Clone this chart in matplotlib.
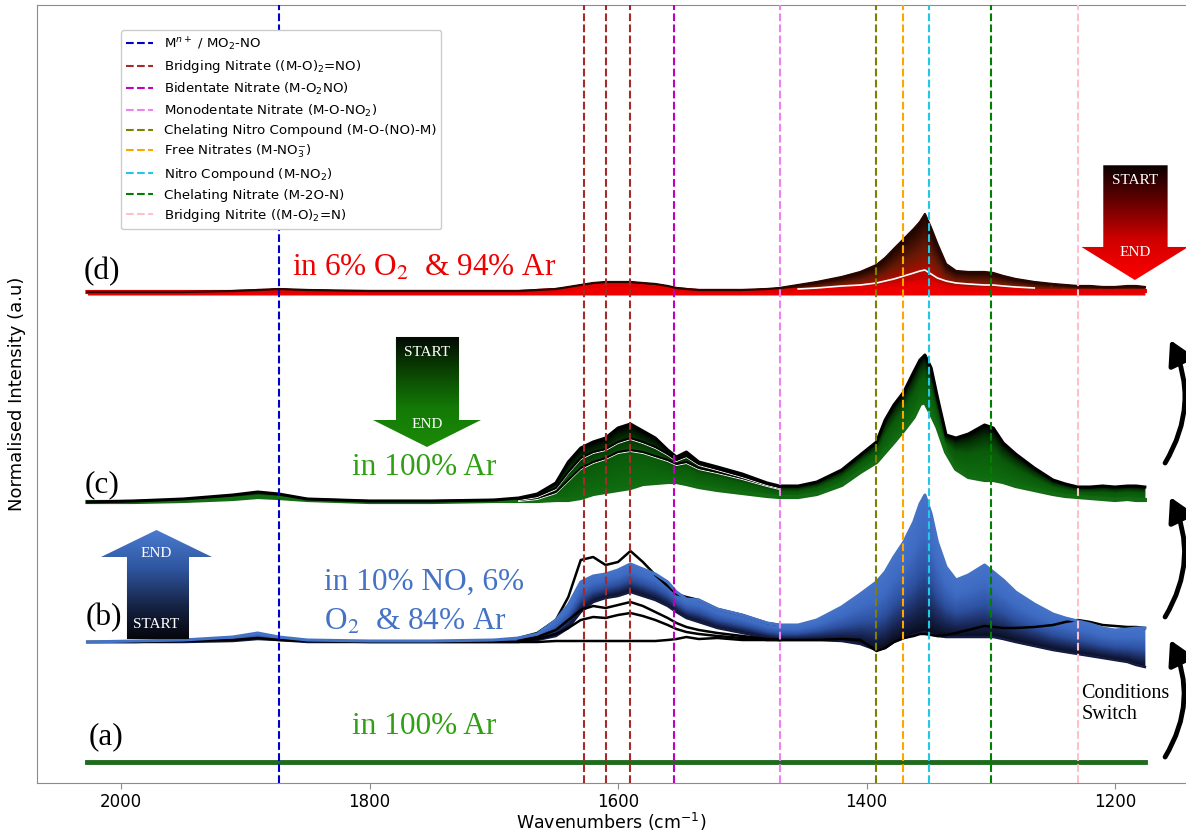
import numpy as np
import matplotlib.pyplot as plt
from matplotlib.colors import LinearSegmentedColormap
from matplotlib.patches import Polygon, FancyArrowPatch

###############################################################################
# Data
###############################################################################
# wavenumber grid shared by all spectra (cm-1)
W = [2027, 1990, 1950, 1910, 1890, 1873, 1850, 1800, 1750, 1700,
     1680, 1665, 1650, 1640, 1630, 1620, 1610, 1600, 1590, 1580,
     1570, 1560, 1553, 1545, 1535, 1520, 1500, 1480, 1470, 1455,
     1440, 1420, 1405, 1392, 1385, 1378, 1370, 1362, 1357, 1353,
     1348, 1343, 1336, 1328, 1318, 1305, 1298, 1290, 1280, 1265,
     1250, 1240, 1230, 1220, 1210, 1200, 1190, 1183, 1176]

# vertical offsets of the stacked spectra (a.u.)
offset_a, offset_b, offset_c, offset_d = 21, 141, 281, 491

# (a) in 100% Ar : flat
a_w = [2027, 1176]
a_int = [0, 0]

# (b) in 10% NO, 6% O2 & 84% Ar
b_end = [0, 1, 2, 5, 9, 5, 2, 1, 1, 2,
         4, 8, 22, 37, 60, 66, 68, 72, 78, 73,
         68, 60, 50, 43, 42, 33, 27, 19, 17, 17,
         22, 35, 48, 60, 70, 85, 100, 120, 138, 147,
         128, 100, 75, 62, 67, 77, 70, 62, 50, 38,
         28, 24, 21, 18, 14, 12, 13, 14, 14]
b_low = [0, 0, 0, 1, 3, 2, 0, 0, 0, 0,
         0, 2, 6, 14, 30, 40, 44, 46, 50, 46,
         42, 36, 30, 24, 20, 14, 9, 4, 2, 2,
         2, 1, -2, -8, -6, 0, 4, 7, 9, 10,
         8, 6, 5, 5, 5, 5, 5, 3, 0, -4,
         -8, -10, -12, -14, -16, -18, -20, -23, -25]
b_start = [0, 0, 1, 2, 4, 2, 1, 0, 0, 0,
           0, 0, 1, 1, 1, 1, 1, 1, 1, 1,
           1, 2, 3, 5, 3, 4, 2, 2, 2, 2,
           2, 3, 2, -9, -6, 0, 4, 6, 8, 8,
           7, 6, 7, 9, 12, 16, 15, 14, 14, 15,
           17, 20, 22, 20, 17, 16, 15, 15, 14]
# early black traces around 1600 (on W[10:29])
b_high = [4, 9, 22, 45, 82, 85, 77, 80, 91, 80, 67, 56, 48, 45, 42, 33, 27, 19, 17]
b_mid1 = [1, 3, 8, 14, 22, 25, 24, 27, 29, 26, 22, 17, 13, 10, 8, 6, 4, 2, 2]
b_mid2 = [2, 5, 12, 22, 32, 36, 34, 37, 40, 36, 30, 24, 19, 15, 12, 9, 6, 3, 2]

# (c) in 100% Ar
c_start = [0, 1, 3, 7, 10, 8, 3, 1, 1, 2,
           4, 8, 19, 40, 54, 60, 64, 74, 78, 71,
           64, 52, 45, 50, 40, 35, 28, 19, 16, 16,
           20, 32, 47, 60, 82, 97, 110, 130, 142, 147,
           134, 105, 67, 64, 68, 77, 74, 59, 48, 34,
           22, 18, 15, 15, 16, 15, 16, 16, 15]
c_end = [0, 0, 1, 3, 5, 4, 2, 0, 0, 1,
         1, 1, 2, 2, 4, 8, 10, 12, 14, 18,
         19, 20, 20, 18, 15, 12, 9, 6, 5, 5,
         8, 17, 30, 40, 50, 60, 72, 85, 98, 100,
         88, 75, 50, 33, 25, 22, 22, 20, 16, 12,
         8, 6, 5, 4, 3, 2, 3, 2, 2]
c_mid1 = [3, 6, 14, 30, 44, 50, 53, 60, 64, 60, 55, 48, 42, 46, 38, 33, 26, 18, 15]
c_mid2 = [2, 4, 10, 22, 34, 40, 44, 50, 52, 50, 46, 42, 38, 40, 34, 30, 24, 17, 14]

# (d) in 6% O2 & 94% Ar
d_start = [0, 0, 0, 1, 2, 3, 2, 1, 1, 1,
           1, 2, 3, 5, 7, 9, 10, 10, 10, 9,
           8, 6, 4, 3, 2, 2, 2, 3, 4, 7,
           10, 15, 20, 27, 34, 43, 53, 63, 70, 78,
           64, 48, 28, 21, 20, 20, 19, 16, 13, 10,
           8, 7, 6, 6, 5, 5, 6, 6, 5]
d_end = [0, 0, 0, 0, 1, 1, 0, 0, 0, 0,
         0, 1, 2, 3, 5, 6, 7, 7, 7, 6,
         5, 4, 3, 2, 1, 1, 1, 1, 1, 2,
         2, 3, 4, 5, 6, 7, 8, 9, 10, 10,
         9, 7, 5, 4, 3, 3, 3, 2, 2, 1,
         1, 1, 1, 1, 1, 1, 1, 1, 1]
# light intermediate trace (on W[29:50])
d_gap = [3, 4, 6, 7, 9, 11, 13, 16, 19, 21, 22, 18, 14, 11, 9, 8, 7, 7, 6, 5, 4]

# assignments (vertical dashed lines)
assign_labels = [
    "M$^{n+}$ / MO$_2$-NO",
    "Bridging Nitrate ((M-O)$_2$=NO)",
    "Bidentate Nitrate (M-O$_2$NO)",
    "Monodentate Nitrate (M-O-NO$_2$)",
    "Chelating Nitro Compound (M-O-(NO)-M)",
    "Free Nitrates (M-NO$_3^{-}$)",
    "Nitro Compound (M-NO$_2$)",
    "Chelating Nitrate (M-2O-N)",
    "Bridging Nitrite ((M-O)$_2$=N)",
]
assign_colors = ["mediumblue", "brown", "m", "violet", "olive",
                 "orange", "#22c8e8", "green", "pink"]
assign_pos = [[1873], [1627, 1610, 1590], [1555], [1470], [1392],
              [1371], [1350], [1300], [1230]]

###############################################################################
# Helpers
###############################################################################
W = np.array(W)


def band(ax, w, lo, hi, cmap, zorder=2):
    # gradient fill between two traces, colour follows the position in the band
    lo = np.asarray(lo, float)
    hi = np.asarray(hi, float)
    n = 16
    t = np.linspace(0, 1, n)[:, None]
    X = np.array(np.broadcast_to(w, (n, len(w))), float)
    Y = lo + t * (hi - lo)
    C = np.array(np.broadcast_to(t, (n, len(w))))
    ax.pcolormesh(X, Y, C, cmap=cmap, shading="gouraud", vmin=0, vmax=1,
                  zorder=zorder)


def block_arrow(ax, sx0, sx1, y_tail, y_base, hx0, hx1, y_tip, cmap,
                txt_tail, txt_head, y_txt_tail, y_txt_head):
    cx = (hx0 + hx1) / 2
    verts = [(sx0, y_tail), (sx1, y_tail), (sx1, y_base), (hx1, y_base),
             (cx, y_tip), (hx0, y_base), (sx0, y_base)]
    poly = Polygon(verts, closed=True, transform=ax.transAxes,
                   facecolor="none", edgecolor="none")
    ax.add_patch(poly)
    grad = np.linspace(0, 1, 256).reshape(-1, 1)
    im = ax.imshow(grad, cmap=cmap, aspect="auto", origin="lower",
                   extent=[hx0, hx1, min(y_tail, y_tip), max(y_tail, y_tip)],
                   transform=ax.transAxes, zorder=6)
    im.set_clip_path(poly)
    for s, yy in [(txt_tail, y_txt_tail), (txt_head, y_txt_head)]:
        ax.text(cx, yy, s, transform=ax.transAxes, color="white",
                fontsize=11, family="Liberation Serif", ha="center",
                va="center", zorder=7)


###############################################################################
# Plot
###############################################################################
fig = plt.figure(figsize=(11.86, 8.32), dpi=100)
ax = fig.add_axes([37 / 1186, 49 / 832, 1149 / 1186, 778 / 832])

cmap_b = LinearSegmentedColormap.from_list(
    "b", [(0, "#080b1a"), (0.2, "#1a2858"), (0.45, "#2e52a2"),
          (0.75, "#3f6cc4"), (1, "#4673c8")])
cmap_c = LinearSegmentedColormap.from_list(
    "c", [(0, "#0f6e0f"), (0.55, "#0a5a0a"), (0.8, "#053305"), (1, "#000000")])
cmap_d = LinearSegmentedColormap.from_list(
    "d", [(0, "#d80000"), (0.25, "#a01000"), (0.5, "#6a1a05"), (1, "#1a0500")])

# (a)
ax.plot(a_w, offset_a + np.array(a_int), color="#1e6b1e", lw=3.5, zorder=3)

# (b)
sub = W[10:29]
band(ax, W, offset_b + np.array(b_low), offset_b + np.array(b_end), cmap_b)
ax.plot(W, offset_b + np.array(b_low), color="#141c44", lw=1.8, zorder=3)
ax.plot(W, offset_b + np.array(b_start), color="black", lw=1.8, zorder=3)
for tr in (b_mid1, b_mid2, b_high):
    ax.plot(sub, offset_b + np.array(tr), color="black", lw=1.8, zorder=3)
ax.plot(W, offset_b + np.array(b_end), color="#4472c4", lw=2.2, zorder=3)

# (c)
band(ax, W, offset_c + np.array(c_end), offset_c + np.array(c_start), cmap_c)
ax.plot(W, offset_c + np.array(c_end), color="#136b13", lw=3, zorder=3)
for tr in (c_mid2, c_mid1):
    ax.plot(sub, offset_c + np.array(tr) - 1.5, color="white", lw=0.7,
            zorder=3)
    ax.plot(sub, offset_c + np.array(tr), color="black", lw=1.4, zorder=3)
ax.plot(W, offset_c + np.array(c_start), color="black", lw=2.2, zorder=3)

# (d)
band(ax, W, offset_d + np.array(d_end), offset_d + np.array(d_start), cmap_d)
ax.fill_between(W, offset_d - 3, offset_d + np.array(d_end), color="#ee0000",
                lw=0, zorder=2)
ax.plot(W, offset_d + np.array(d_end), color="#e00000", lw=3, zorder=3)
ax.plot(W[29:50], offset_d + np.array(d_gap), color="white", lw=1.2, zorder=3)
ax.plot(W, offset_d + np.array(d_start), color="#2a0600", lw=1.6, zorder=3)

# assignment lines
handles = []
for lab, col, pos in zip(assign_labels, assign_colors, assign_pos):
    for i, p in enumerate(pos):
        ln = ax.axvline(p, color=col, ls="--", lw=1.5, zorder=4)
        if i == 0:
            ln.set_label(lab)
            handles.append(ln)

leg = ax.legend(handles=handles, loc="upper left",
                bbox_to_anchor=(0.073, 0.968), borderaxespad=0, fontsize=9.6,
                framealpha=1, edgecolor="0.8", labelspacing=0.42)
leg.set_zorder(5)

# series labels
serif = dict(family="Liberation Serif", math_fontfamily="stix", fontsize=22.5,
             va="center", zorder=6)
ax.text(2015, offset_d + 20, "(d)", ha="center", **serif)
ax.text(2015, offset_c + 17, "(c)", ha="center", **serif)
ax.text(2014, offset_b + 24, "(b)", ha="center", **serif)
ax.text(2012, offset_a + 25, "(a)", ha="center", **serif)
ax.text(1862, offset_d + 24, "in 6% O$_2$  & 94% Ar", color="#ee0000",
        ha="left", **serif)
ax.text(1814, offset_c + 35, "in 100% Ar", color="#2ea012", ha="left", **serif)
ax.text(1837, offset_b + 60, "in 10% NO, 6%", color="#4472c4", ha="left",
        **serif)
ax.text(1837, offset_b + 20, "O$_2$  & 84% Ar", color="#4472c4", ha="left",
        **serif)
ax.text(1814, offset_a + 35, "in 100% Ar", color="#2ea012", ha="left", **serif)
ax.text(1227, offset_a + 58, "Conditions\nSwitch", family="Liberation Serif",
        fontsize=14.5, ha="left", va="center", linespacing=1.2, zorder=6)

# gradient block arrows
red_arrow = LinearSegmentedColormap.from_list(
    "ra", [(0, "#ff0000"), (0.35, "#d00000"), (0.7, "#600000"), (1, "#0a0000")])
green_arrow = LinearSegmentedColormap.from_list(
    "ga", [(0, "#1c8a08"), (0.35, "#137a05"), (0.7, "#0a4003"), (1, "#020802")])
blue_arrow = LinearSegmentedColormap.from_list(
    "ba", [(0, "#05060c"), (0.3, "#162344"), (0.65, "#2f56a0"), (1, "#4a7bd0")])

block_arrow(ax, 0.928, 0.984, 0.794, 0.689, 0.909, 1.002, 0.6465, red_arrow,
            "START", "END", 0.775, 0.682)
block_arrow(ax, 0.3124, 0.3673, 0.5733, 0.4666, 0.2924, 0.3864, 0.4319,
            green_arrow, "START", "END", 0.553, 0.461)
block_arrow(ax, 0.0783, 0.1323, 0.1851, 0.2905, 0.0557, 0.1523, 0.3252,
            blue_arrow, "START", "END", 0.204, 0.295)

# curved "conditions switch" arrows
for y0, y1 in [(0.0334, 0.1838), (0.2134, 0.3676), (0.4113, 0.5694)]:
    arr = FancyArrowPatch((0.9818, y0), (0.9862, y1),
                          connectionstyle="arc3,rad=0.27",
                          arrowstyle="-|>,head_length=0.8,head_width=0.45",
                          mutation_scale=18, lw=3.5, color="black",
                          transform=ax.transAxes, clip_on=False, zorder=6,
                          shrinkA=0, shrinkB=0)
    ax.add_patch(arr)

# axes cosmetics
ax.set_xlim(2067.6, 1142.9)
ax.set_ylim(0, 778)
ax.set_xticks([2000, 1800, 1600, 1400, 1200])
ax.set_yticks([])
ax.tick_params(axis="x", labelsize=12, color="0.55", length=4, pad=3)
for side in ("left", "bottom", "top"):
    ax.spines[side].set_color("0.55")
ax.spines["right"].set_visible(False)
ax.set_xlabel("Wavenumbers (cm$^{-1}$)", fontsize=12.5, labelpad=0)
ax.set_ylabel("Normalised Intensity (a.u)", fontsize=13, labelpad=8)

fig.savefig("out.png", dpi=100)
